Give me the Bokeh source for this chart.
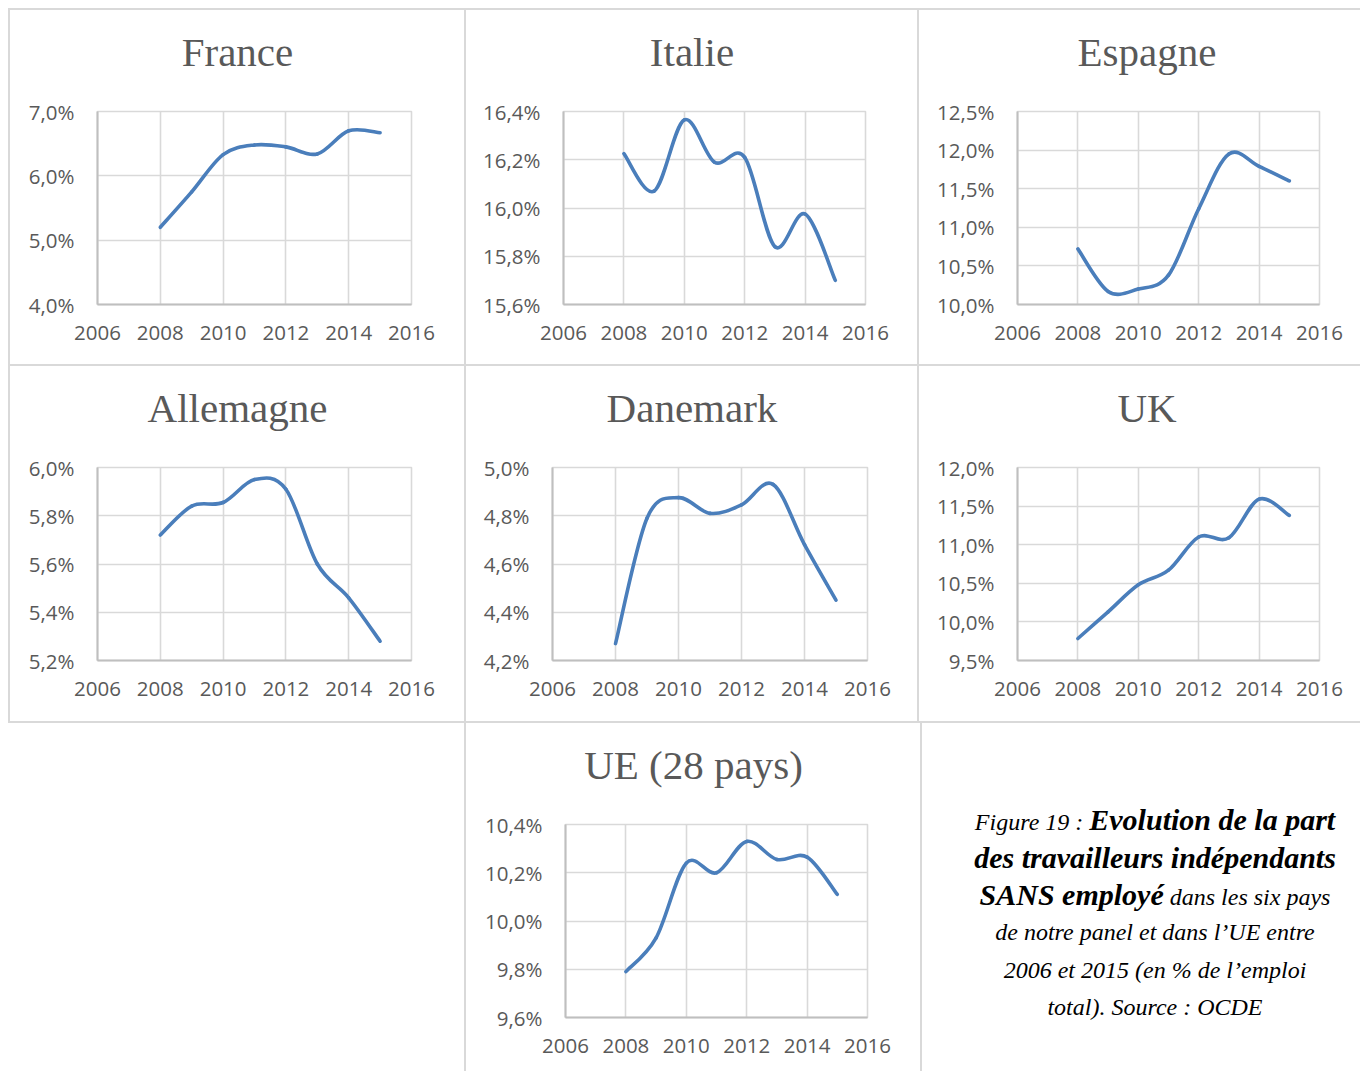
from bokeh.plotting import figure
from bokeh.models import FixedTicker, Range1d, Spacer, ColumnDataSource, Title, Div
from bokeh.layouts import row, column
from bokeh.embed import file_html
from bokeh.resources import INLINE

# ---------------- data ----------------
years = [2008, 2009, 2010, 2011, 2012, 2013, 2014, 2015]

france = [5.20, 5.75, 6.33, 6.48, 6.45, 6.34, 6.70, 6.67]
italie = [16.225, 16.07, 16.365, 16.19, 16.21, 15.84, 15.975, 15.70]
espagne = [10.72, 10.17, 10.20, 10.38, 11.24, 11.95, 11.79, 11.60]
allemagne = [5.72, 5.84, 5.855, 5.95, 5.91, 5.60, 5.46, 5.28]
danemark = [4.27, 4.79, 4.875, 4.81, 4.845, 4.93, 4.68, 4.45]
uk = [9.785, 10.13, 10.48, 10.67, 11.10, 11.09, 11.59, 11.38]
ue = [9.79, 9.93, 10.24, 10.20, 10.33, 10.255, 10.265, 10.11]

titles = ["France", "Italie", "Espagne", "Allemagne", "Danemark", "UK", "UE (28 pays)"]

x_ticks = [2006, 2008, 2010, 2012, 2014, 2016]
x_tick_labels = ["2006", "2008", "2010", "2012", "2014", "2016"]

france_ticks = [4.0, 5.0, 6.0, 7.0]
france_labels = ["4,0%", "5,0%", "6,0%", "7,0%"]
italie_ticks = [15.6, 15.8, 16.0, 16.2, 16.4]
italie_labels = ["15,6%", "15,8%", "16,0%", "16,2%", "16,4%"]
espagne_ticks = [10.0, 10.5, 11.0, 11.5, 12.0, 12.5]
espagne_labels = ["10,0%", "10,5%", "11,0%", "11,5%", "12,0%", "12,5%"]
allemagne_ticks = [5.2, 5.4, 5.6, 5.8, 6.0]
allemagne_labels = ["5,2%", "5,4%", "5,6%", "5,8%", "6,0%"]
danemark_ticks = [4.2, 4.4, 4.6, 4.8, 5.0]
danemark_labels = ["4,2%", "4,4%", "4,6%", "4,8%", "5,0%"]
uk_ticks = [9.5, 10.0, 10.5, 11.0, 11.5, 12.0]
uk_labels = ["9,5%", "10,0%", "10,5%", "11,0%", "11,5%", "12,0%"]
ue_ticks = [9.6, 9.8, 10.0, 10.2, 10.4]
ue_labels = ["9,6%", "9,8%", "10,0%", "10,2%", "10,4%"]

caption_lines = [
    [("Figure 19 : ", "italic"), ("Evolution de la part", "bold")],
    [("des travailleurs indépendants", "bold")],
    [("SANS employé", "bold"), (" dans les six pays", "italic")],
    [("de notre panel et dans l\u2019UE entre", "italic")],
    [("2006 et 2015 (en % de l\u2019emploi", "italic")],
    [("total). Source : OCDE", "italic")],
]

# ---------------- style ----------------
LINE = "#4a7ebb"
GRID = "#d9d9d9"
AXIS = "#bfbfbf"
TXT = "#595959"
BORDER = {"background-color": "#d9d9d9"}
TITLE_PX = 41
# Liberation Serif (Times metrics) advance widths, per 1000 em, for centring titles
SERIF_W = {"F": 556, "r": 333, "a": 444, "n": 500, "c": 444, "e": 444, "I": 333,
           "t": 278, "l": 278, "i": 278, "E": 611, "s": 389, "p": 500, "g": 500,
           "A": 722, "m": 778, "D": 722, "k": 500, "U": 722, "K": 722, " ": 250,
           "(": 333, ")": 333, "2": 500, "8": 500, "y": 500}


def text_width(s, px):
    return sum(SERIF_W.get(ch, 500) for ch in s) * px / 1000.0


def smooth_segments(xs, ys):
    """Excel-like smoothed line: cubic Bezier control points (Catmull-Rom)."""
    n = len(xs)
    d = dict(x0=[], y0=[], x1=[], y1=[], cx0=[], cy0=[], cx1=[], cy1=[])
    for i in range(n - 1):
        a = i - 1 if i > 0 else i
        b = i + 2 if i + 2 < n else i + 1
        d["x0"].append(xs[i]); d["y0"].append(ys[i])
        d["x1"].append(xs[i + 1]); d["y1"].append(ys[i + 1])
        d["cx0"].append(xs[i] + (xs[i + 1] - xs[a]) / 6.0)
        d["cy0"].append(ys[i] + (ys[i + 1] - ys[a]) / 6.0)
        d["cx1"].append(xs[i + 1] - (xs[b] - xs[i]) / 6.0)
        d["cy1"].append(ys[i + 1] - (ys[b] - ys[i]) / 6.0)
    return ColumnDataSource(d)


def make_chart(title, vals, yticks, ylabels, w, h, left, right, top, bottom, cell_w):
    p = figure(width=w, height=h, x_range=Range1d(2006, 2016),
               y_range=Range1d(yticks[0], yticks[-1]),
               min_border_left=left, min_border_right=right,
               min_border_top=top, min_border_bottom=bottom,
               output_backend="svg", toolbar_location=None, tools="")
    # blank spacer title next to the frame, then the real title above it
    p.add_layout(Title(text="\u00a0", text_font_size="10px", standoff=24,
                       text_color="white"), "above")
    off = cell_w / 2.0 - left - text_width(title, TITLE_PX) / 2.0
    p.add_layout(Title(text=title, align="left", offset=off, standoff=0,
                       text_font="Liberation Serif", text_font_size="%dpx" % TITLE_PX,
                       text_font_style="normal", text_color=TXT), "above")

    p.xaxis.ticker = FixedTicker(ticks=x_ticks)
    p.xaxis.major_label_overrides = dict(zip(x_ticks, x_tick_labels))
    p.yaxis.ticker = FixedTicker(ticks=yticks)
    p.yaxis.major_label_overrides = dict(zip(yticks, ylabels))
    for ax in (p.xaxis, p.yaxis):
        ax.major_tick_in = 0
        ax.major_tick_out = 0
        ax.minor_tick_in = 0
        ax.minor_tick_out = 0
        ax.axis_line_color = AXIS
        ax.axis_line_width = 2
        ax.major_label_text_font = "Open Sans"
        ax.major_label_text_font_size = "20.5px"
        ax.major_label_text_color = TXT
    p.yaxis.major_label_standoff = 23
    p.xaxis.major_label_standoff = 21
    p.xgrid.grid_line_color = GRID
    p.ygrid.grid_line_color = GRID
    p.xgrid.grid_line_width = 1.6
    p.ygrid.grid_line_width = 1.6
    p.outline_line_color = GRID
    p.outline_line_width = 1.6
    p.background_fill_color = "white"
    p.border_fill_color = "white"

    src = smooth_segments(years, vals)
    p.bezier(x0="x0", y0="y0", x1="x1", y1="y1", cx0="cx0", cy0="cy0",
             cx1="cx1", cy1="cy1", source=src, line_color=LINE,
             line_width=3.6, line_cap="round")
    return p


def vline(h):
    return Spacer(width=2, height=h, styles=BORDER)


def hline():
    return Spacer(width=1352, height=2, styles=BORDER)


H1, H2, H3 = 354, 355, 348
W3 = 441

fr = make_chart(titles[0], france, france_ticks, france_labels, 454, H1, 87, 53, 101, 60, 454)
it = make_chart(titles[1], italie, italie_ticks, italie_labels, 451, H1, 97, 52, 101, 60, 451)
es = make_chart(titles[2], espagne, espagne_ticks, espagne_labels, W3, H1, 98, W3 - 400, 101, 60, 455)
al = make_chart(titles[3], allemagne, allemagne_ticks, allemagne_labels, 454, H2, 87, 53, 101, 61, 454)
da = make_chart(titles[4], danemark, danemark_ticks, danemark_labels, 451, H2, 86, 50, 101, 61, 451)
ukf = make_chart(titles[5], uk, uk_ticks, uk_labels, W3, H2, 98, W3 - 400, 101, 61, 455)
uef = make_chart(titles[6], ue, ue_ticks, ue_labels, 454, H3, 99, 53, 101, H3 - 294, 454)

# caption panel (mixed italic / bold italic text, centred lines)
CW = 1352 - 456 - 2 - 454 - 2
line_html = []
for pieces in caption_lines:
    parts = []
    for txt, style in pieces:
        if style == "bold":
            parts.append('<b style="font-size:30px;font-weight:bold">%s</b>' % txt)
        else:
            parts.append(txt)
    line_html.append('<div style="height:37.7px;line-height:37.7px;white-space:nowrap">'
                     + "".join(parts) + "</div>")
cap_html = ('<div style="font-family:\'Liberation Serif\',serif;font-style:italic;'
            'font-size:24px;color:#000;text-align:center;width:410px;'
            'margin:0 0 0 28px;padding:78px 0 0 0;">'
            + "".join(line_html) + "</div>")
cap = Div(text=cap_html, width=CW, height=H3, margin=(0, 0, 0, 0))

grid = column(
    hline(),
    row(vline(H1), fr, vline(H1), it, vline(H1), es),
    hline(),
    row(vline(H2), al, vline(H2), da, vline(H2), ukf),
    hline(),
    row(Spacer(width=456, height=H3), vline(H3), uef, vline(H3), cap),
)
layout = column(Spacer(width=1360, height=8), row(Spacer(width=8, height=1062), grid))

open("out.html", "w").write(file_html(layout, INLINE, title="Figure 19"))
